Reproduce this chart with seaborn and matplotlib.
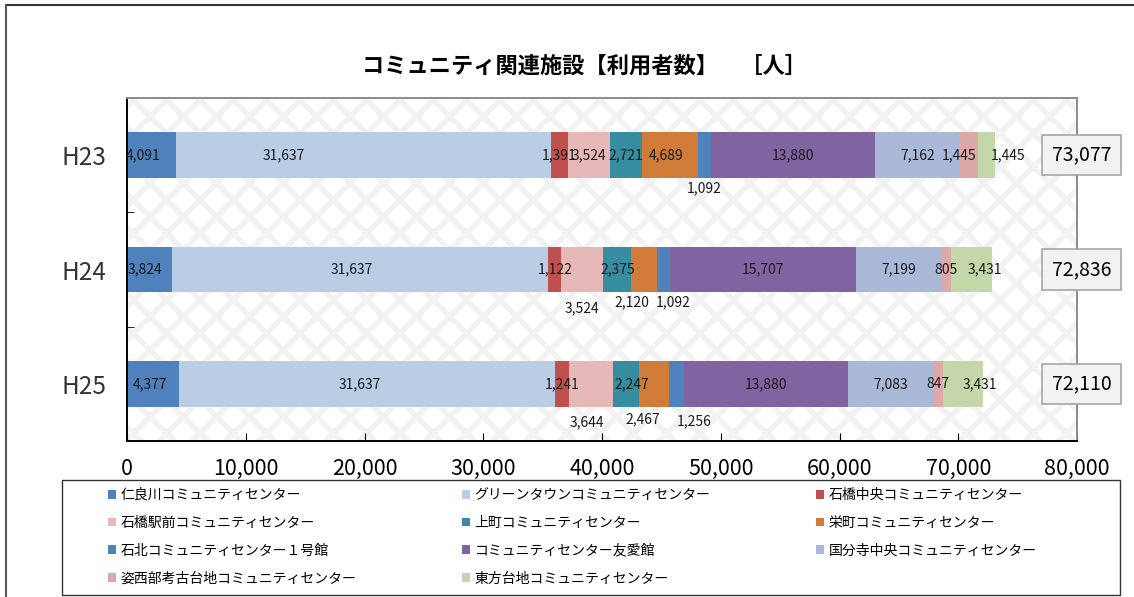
import numpy as np
import pandas as pd
import matplotlib
matplotlib.use("Agg")
import matplotlib.pyplot as plt
import matplotlib.transforms as mtransforms
from matplotlib.patches import Rectangle, Patch
from matplotlib.lines import Line2D
from matplotlib.ticker import FuncFormatter
import seaborn as sns

# data
YEARS = ["H23", "H24", "H25"]
FACILITIES = [
    "仁良川コミュニティセンター",
    "グリーンタウンコミュニティセンター",
    "石橋中央コミュニティセンター",
    "石橋駅前コミュニティセンター",
    "上町コミュニティセンター",
    "栄町コミュニティセンター",
    "石北コミュニティセンター１号館",
    "コミュニティセンター友愛館",
    "国分寺中央コミュニティセンター",
    "姿西部考古台地コミュニティセンター",
    "東方台地コミュニティセンター",
]
H23 = [4091, 31637, 1391, 3524, 2721, 4689, 1092, 13880, 7162, 1445, 1445]
H24 = [3824, 31637, 1122, 3524, 2375, 2120, 1092, 15707, 7199, 805, 3431]
H25 = [4377, 31637, 1241, 3644, 2247, 2467, 1256, 13880, 7083, 847, 3431]
TITLE = "コミュニティ関連施設【利用者数】　［人］"

COLORS = ["#4F81BD", "#B9CDE5", "#C0504D", "#E6B9B8", "#368D9F", "#D07B37",
          "#4F81BD", "#8064A2", "#A9B9D7", "#DCA9A8", "#C4D7A9"]

# manual label nudges (pixels right, pixels down), like the moved labels in the original
LABEL_NUDGE = {
    (0, 0): (-8, 0), (0, 1): (-80, 0), (0, 5): (-4, 0), (0, 6): (0, 33),
    (0, 9): (-10, 0), (0, 10): (22, 0),
    (1, 0): (-5, 0), (1, 1): (-9, 0), (1, 3): (0, 39), (1, 5): (-12, 33),
    (1, 6): (10, 33), (1, 10): (13, 0),
    (2, 0): (-3, 0), (2, 1): (-7, 0), (2, 3): (-4, 38), (2, 4): (6, 0),
    (2, 5): (-11, 35), (2, 6): (18, 37), (2, 10): (17, 0),
}

plt.rcParams['font.family'] = ['Noto Sans CJK JP', 'DejaVu Sans']
plt.rcParams['hatch.linewidth'] = 4

values = np.array([H23, H24, H25])
cum = values.cumsum(axis=1)
df = pd.DataFrame(cum, index=YEARS, columns=FACILITIES)
df.index.name = "year"

fig = plt.figure(figsize=(11.34, 5.97), dpi=100)
ax = fig.add_axes([127 / 1134, 1 - 441 / 597, 950 / 1134, 343 / 597])

# patterned plot background
ax.add_patch(Rectangle((0, 0), 1, 1, transform=ax.transAxes, facecolor="white",
                       edgecolor="#F2F2F2", hatch="x", lw=0, zorder=0))

# stacked bars: draw cumulative totals from largest to smallest
for j in range(len(FACILITIES) - 1, -1, -1):
    sns.barplot(x=df[FACILITIES[j]].values, y=YEARS, orient="h", color=COLORS[j],
                width=0.4, ax=ax, zorder=2, saturation=1)

ax.set_xlim(0, 80000)
ax.set_ylim(2.5, -0.5)
ax.set_xlabel("")
ax.set_ylabel("")
ax.xaxis.set_major_formatter(FuncFormatter(lambda v, p: f"{int(v):,}"))
ax.set_xticks(np.arange(0, 80001, 10000))
ax.tick_params(axis="x", direction="in", length=6, pad=12, labelsize=15.5)
ax.set_yticks(range(len(YEARS)))
ax.set_yticklabels(YEARS)
ax.tick_params(axis="y", which="major", length=0, pad=15, labelsize=17.5, labelcolor="#333333")
ax.set_yticks([0.5, 1.5], minor=True)
ax.tick_params(axis="y", which="minor", direction="in", length=5)
for s in ["left", "bottom"]:
    ax.spines[s].set_color("black")
    ax.spines[s].set_linewidth(1.4)
for s in ["top", "right"]:
    ax.spines[s].set_color("#8C8C8C")
    ax.spines[s].set_linewidth(1.4)

# segment labels
for i in range(len(YEARS)):
    for j in range(len(FACILITIES)):
        center = cum[i, j] - values[i, j] / 2
        dx, dy = LABEL_NUDGE.get((i, j), (0, 0))
        ax.annotate(f"{values[i, j]:,}", xy=(center, i), xytext=(dx * 0.72, -dy * 0.72),
                    textcoords="offset points", ha="center", va="center",
                    fontsize=10, color="#1A1A1A", zorder=5)

# totals
trans = mtransforms.blended_transform_factory(ax.transAxes, ax.transData)
for i in range(len(YEARS)):
    ax.text(1.005, i, f"{cum[i, -1]:,}", transform=trans, ha="center", va="center",
            fontsize=14, clip_on=False, zorder=6,
            bbox=dict(boxstyle="square,pad=0.5", fc="#F2F2F2", ec="#A6A6A6", lw=1.2))

fig.text(0.515, 1 - 66 / 597, TITLE, ha="center", va="center", fontsize=16, fontweight="bold")

# legend box
fig.add_artist(Rectangle((62 / 1134, 1 - 595 / 597), 1058 / 1134, 115 / 597,
                         transform=fig.transFigure, facecolor="white",
                         edgecolor="#333333", lw=1.0))

# legend, row-major order like the original
handles = [Patch(facecolor=c, edgecolor="none") for c in COLORS]
order = [0, 3, 6, 9, 1, 4, 7, 10, 2, 5, 8]
leg = fig.legend([handles[k] for k in order], [FACILITIES[k] for k in order],
                 ncol=3, loc="upper left",
                 bbox_to_anchor=(108 / 1134, 1 - 488 / 597),
                 fontsize=10, frameon=False, handlelength=0.6,
                 handleheight=0.6, handletextpad=0.3, labelspacing=1.0,
                 columnspacing=7.6, borderpad=0, borderaxespad=0)

# outer chart frame (top and left edges visible)
fig.add_artist(Line2D([6 / 1134, 1], [1 - 5 / 597, 1 - 5 / 597], transform=fig.transFigure,
                      color="#333333", lw=1.5))
fig.add_artist(Line2D([6 / 1134, 6 / 1134], [0, 1 - 5 / 597], transform=fig.transFigure,
                      color="#555555", lw=1.5))

fig.savefig("out.png", dpi=100)
